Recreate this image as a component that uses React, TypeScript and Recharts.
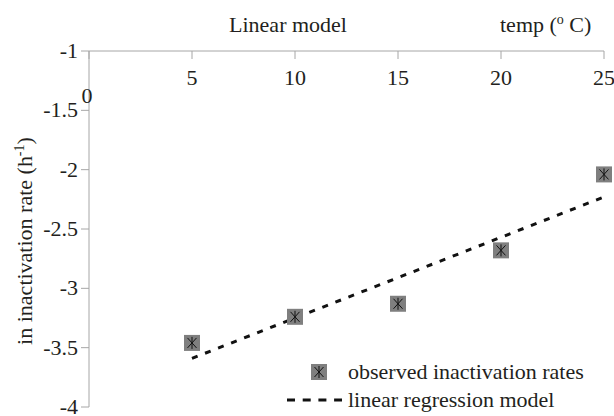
import React from "react";
import { ComposedChart, Line, Scatter, XAxis, YAxis } from "recharts";

const temps = [5, 10, 15, 20, 25];
const observedRates = [-3.46, -3.24, -3.13, -2.68, -2.04];
const modelRates = [-3.59, -3.25, -2.91, -2.57, -2.23];
const xTicks = [0, 5, 10, 15, 20, 25];
const yTicks = [-4, -3.5, -3, -2.5, -2, -1.5, -1];

const data = temps.map((t, i) => ({ temp: t, observed: observedRates[i], model: modelRates[i] }));

const FONT = '"Liberation Serif", "DejaVu Serif", "Times New Roman", serif';
const AXIS = "#a6a6a6";
const INK = "#231f20";
const FS = 22;
const txt = { fontFamily: FONT, fontSize: FS };

// x labels sit under the top axis line; the 0 label is pushed a bit lower
const XTick = (props: any) => {
    const { x, y, payload } = props;
    const zero = payload.value === 0;
    return (
        <text x={x + (zero ? -2 : 0)} y={y} dy={zero ? 44 : 26} textAnchor="middle" fill={INK} style={txt}>
            {payload.value}
        </text>
    );
};

const YTick = (props: any) => {
    const { x, y, payload } = props;
    return (
        <text x={x} y={y} dy={7} textAnchor="end" fill={INK} style={txt}>
            {payload.value}
        </text>
    );
};

const StarBox = ({ cx, cy }: any) => (
    <g>
        <rect x={cx - 8} y={cy - 8} width={16} height={16} fill="#7f7f7f" />
        <path
            d={`M${cx - 4.5},${cy - 5}L${cx + 4.5},${cy + 5}M${cx + 4.5},${cy - 5}L${cx - 4.5},${cy + 5}M${cx},${cy - 6}V${cy + 6}`}
            stroke="#111"
            strokeWidth={1}
        />
    </g>
);

export default function App() {
    return (
        <div style={{ position: "absolute", left: 0, top: 0, width: 614, height: 416, background: "#fff", fontFamily: FONT }}>
            <ComposedChart width={614} height={416} data={data} margin={{ top: 51, right: 10, bottom: 9, left: 0 }}>
                <XAxis
                    dataKey="temp"
                    type="number"
                    orientation="top"
                    mirror
                    domain={[0, 25]}
                    ticks={xTicks}
                    stroke={AXIS}
                    tickSize={8}
                    tickMargin={0}
                    tick={<XTick />}
                />
                <YAxis
                    type="number"
                    domain={[-4, -1]}
                    ticks={yTicks}
                    width={89}
                    stroke={AXIS}
                    tickSize={8}
                    tickMargin={3}
                    tick={<YTick />}
                />
                <Line
                    dataKey="model"
                    type="linear"
                    stroke="#111"
                    strokeWidth={3}
                    strokeDasharray="6 8"
                    dot={false}
                    activeDot={false}
                    isAnimationActive={false}
                />
                <Scatter dataKey="observed" shape={<StarBox />} isAnimationActive={false} />
            </ComposedChart>
            <svg width={614} height={416} style={{ position: "absolute", left: 0, top: 0, pointerEvents: "none" }}>
                <text x={288} y={32} textAnchor="middle" fill={INK} style={txt}>Linear model</text>
                <text x={500} y={32} fill={INK} style={txt}>
                    temp (<tspan style={{ fontSize: 14 }} dy={-8}>o</tspan>
                    <tspan dy={8}> C)</tspan>
                </text>
                <text x={32} y={241} transform="rotate(-90 32 241)" textAnchor="middle" fill={INK} style={txt}>
                    in inactivation rate (h<tspan style={{ fontSize: 14 }} dy={-8}>-1</tspan>
                    <tspan dy={8}>)</tspan>
                </text>
                {/* legend */}
                <StarBox cx={319} cy={372} />
                <text x={348} y={379} fill={INK} style={txt}>observed inactivation rates</text>
                <line x1={287} y1={400} x2={342} y2={400} stroke="#111" strokeWidth={3} strokeDasharray="8 7.7" />
                <text x={348} y={407} fill={INK} style={txt}>linear regression model</text>
            </svg>
        </div>
    );
}
